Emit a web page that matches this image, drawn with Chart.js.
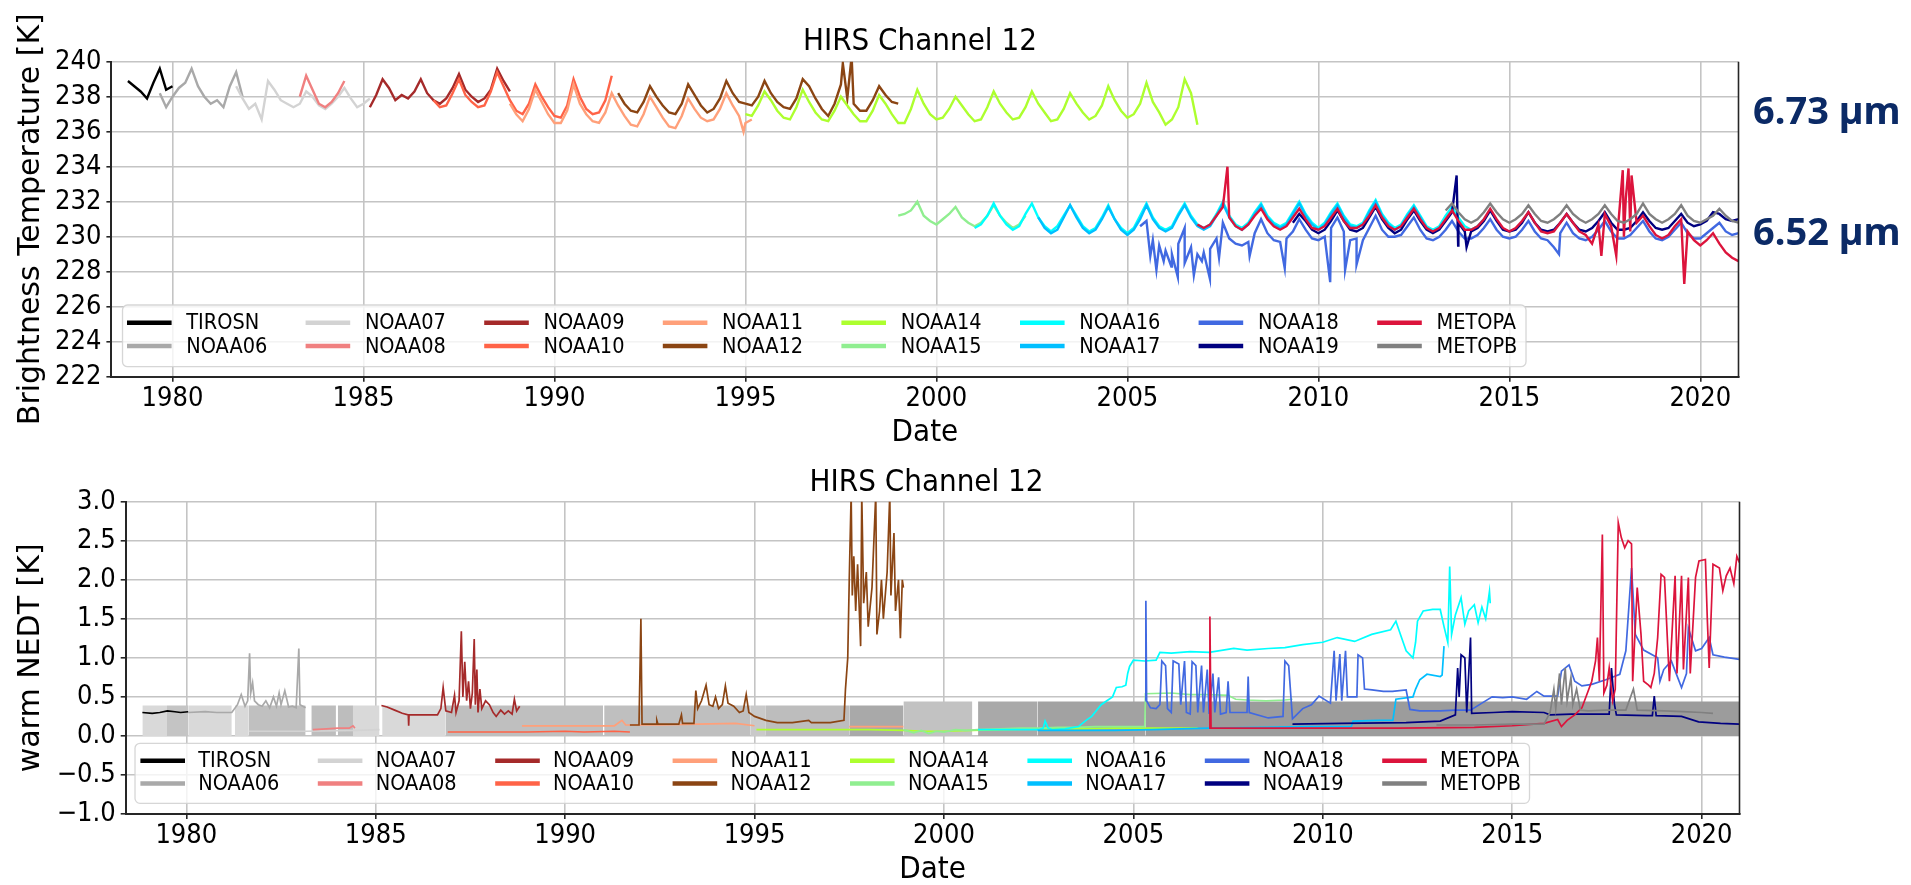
<!DOCTYPE html>
<html>
<head>
<meta charset="utf-8">
<script src="https://cdn.jsdelivr.net/npm/chart.js@4.4.1/dist/chart.umd.min.js"></script>
<style>
  html, body { margin: 0; padding: 0; background: #fff; width: 1911px; height: 885px; overflow: hidden; }
  canvas { position: absolute; left: 0; }
  #tbChart { top: 0; }
  #nedtChart { top: 440px; }
</style>
</head>
<body>
<canvas id="tbChart" width="1911" height="470"></canvas>
<canvas id="nedtChart" width="1911" height="450"></canvas>
<script>
const satellites = ['TIROSN', 'NOAA06', 'NOAA07', 'NOAA08', 'NOAA09', 'NOAA10', 'NOAA11', 'NOAA12',
                    'NOAA14', 'NOAA15', 'NOAA16', 'NOAA17', 'NOAA18', 'NOAA19', 'METOPA', 'METOPB'];
const lineColors = ['#000000', '#a9a9a9', '#d3d3d3', '#f08080', '#a52a2a', '#ff6347', '#ffa07a', '#8b4513',
                    '#adff2f', '#90ee90', '#00ffff', '#00bfff', '#4169e1', '#000080', '#dc143c', '#808080'];

const yearTicks = [1980, 1985, 1990, 1995, 2000, 2005, 2010, 2015, 2020];
const tbTicks = [222, 224, 226, 228, 230, 232, 234, 236, 238, 240];
const nedtTicks = [-1, -0.5, 0, 0.5, 1, 1.5, 2, 2.5, 3];

// brightness temperature, one value every two months from the start year
const SAMPLE = 1 / 6;
const tirosnTb = [238.9, 238.6, 238.3, 237.9, 238.8, 239.6, 238.4, 238.6];
const noaa06Tb = [238.2, 237.4, 238.0, 238.5, 238.8, 239.6, 238.6, 238.0, 237.6, 237.8, 237.4, 238.6, 239.4, 238.0];
const noaa07Tb = [238.6, 237.9, 237.3, 237.6, 236.7, 238.9, 238.4, 237.8, 237.6, 237.4, 237.6, 238.3, 238.0, 237.5,
                  237.3, 237.6, 238.0, 238.5, 237.9, 237.4, 237.6, 237.9];
const noaa08Tb = [238.0, 239.2, 238.4, 237.6, 237.4, 237.7, 238.2, 238.9];
const noaa09Tb = [237.4, 238.1, 239.0, 238.5, 237.8, 238.1, 237.9, 238.3, 239.0, 238.2, 237.8, 237.6, 237.9, 238.5,
                  239.3, 238.4, 238.0, 237.7, 237.9, 238.4, 239.6, 238.9, 238.3];
const noaa10Tb = [237.8, 237.4, 237.5, 238.2, 239.0, 238.1, 237.7, 237.4, 237.5, 238.3, 239.4, 238.6, 237.8, 237.2,
                  237.0, 237.6, 238.7, 238.0, 237.4, 236.9, 236.8, 237.5, 239.0, 238.0, 237.3, 237.0, 237.1, 237.8, 239.2];
const noaa11Tb = [237.6, 237.0, 236.6, 237.3, 238.4, 237.7, 237.0, 236.5, 236.5, 237.2, 238.7, 237.6, 237.0, 236.6,
                  236.5, 237.1, 238.2, 237.5, 236.9, 236.4, 236.3, 237.0, 238.0, 237.4, 236.8, 236.3, 236.2, 236.9,
                  237.9, 237.3, 236.8, 236.6, 236.7, 237.3, 238.2, 237.5, 236.9, 236.5, 236.7];
const noaa12Tb = [238.2, 237.6, 237.2, 237.1, 237.7, 238.6, 238.0, 237.5, 237.1, 237.0, 237.6, 238.7, 238.1, 237.5,
                  237.1, 237.3, 237.9, 238.9, 238.2, 237.7, 237.6, 237.5, 238.0, 238.9, 238.2, 237.7, 237.4, 237.3,
                  237.9, 239.0, 238.6, 237.9, 237.3, 236.9, 237.6, 238.7, 237.9, 237.6, 237.2, 237.2, 237.8, 238.6,
                  238.1, 237.7, 237.6];
const noaa14Tb = [237.0, 236.9, 237.5, 238.3, 237.8, 237.2, 236.8, 236.7, 237.4, 238.4, 237.7, 237.1,
                  236.7, 236.6, 237.2, 238.0, 237.5, 237.0, 236.6, 236.6, 237.2, 238.1, 237.6, 237.0,
                  236.5, 236.5, 237.3, 238.4, 237.6, 237.0, 236.7, 236.8, 237.3, 238.0, 237.5, 237.0,
                  236.6, 236.7, 237.4, 238.3, 237.6, 237.1, 236.7, 236.8, 237.4, 238.3, 237.6, 237.1,
                  236.6, 236.7, 237.3, 238.2, 237.6, 237.1, 236.7, 236.9, 237.5, 238.6, 237.8, 237.2,
                  236.8, 237.0, 237.6, 238.8, 237.7, 237.1, 236.4, 236.7, 237.4, 239.0, 238.2, 236.4];
const noaa15Tb = [231.2, 231.3, 231.5, 232.0, 231.2, 230.9, 230.7, 231.0, 231.3, 231.7, 231.1, 230.8,
                  230.6, 230.8, 231.2, 231.8, 231.2, 230.8, 230.5, 230.7, 231.2];
const noaa16Tb = [230.5, 230.7, 231.2, 231.9, 231.2, 230.7, 230.4, 230.6, 231.3, 231.9, 231.1, 230.6,
                  230.3, 230.6, 231.2, 231.8, 231.2, 230.6, 230.3, 230.5, 231.1, 231.8, 231.0, 230.5,
                  230.2, 230.5, 231.2, 231.9, 231.1, 230.6, 230.4, 230.6, 231.3, 231.9, 231.2, 230.7,
                  230.5, 230.7, 231.3, 232.0, 231.2, 230.7, 230.5, 230.8, 231.4, 231.9, 231.2, 230.8,
                  230.6, 230.8, 231.4, 232.0, 231.3, 230.8, 230.5, 230.8, 231.4, 231.9, 231.2, 230.7,
                  230.6, 230.8, 231.5, 232.1, 231.3, 230.8, 230.5, 230.7, 231.3, 231.8, 231.2, 230.6,
                  230.4, 230.6, 231.2, 231.7, 231.1, 230.6, 230.4, 230.6, 231.0];
const noaa17Tb = [231.1, 230.5, 230.2, 230.4, 231.1, 231.8, 231.1, 230.5, 230.2, 230.4, 231.0, 231.7, 231.0, 230.4,
                  230.1, 230.4, 231.0, 231.8, 231.0, 230.5, 230.3, 230.5, 231.2, 231.8, 231.1, 230.6,
                  230.4, 230.6, 231.2, 231.9, 231.1, 230.6, 230.4, 230.7, 231.3, 231.8, 231.1, 230.7,
                  230.5, 230.7, 231.3, 231.9, 231.2, 230.7, 230.4, 230.7, 231.3, 231.8, 231.1, 230.6,
                  230.5, 230.7, 231.4, 232.0, 231.2, 230.7, 230.4, 230.6, 231.2, 231.7, 231.1, 230.5,
                  230.3, 230.5];
const noaa18Tb = [230.6, 230.9, 229.8, 229.5, 229.2, 229.0, 229.6, 230.5, 229.4, 229.0,
                  229.1, 229.3, 229.9, 230.8, 229.9, 229.6, 229.5, 229.7, 230.2, 231.0, 230.2, 229.8,
                  229.7, 229.9, 230.3, 231.0, 230.4, 229.9, 229.8, 230.0, 230.5, 231.1, 230.3, 229.8,
                  229.9, 229.8, 230.5, 231.2, 230.4, 230.0, 230.0, 230.1, 230.6, 231.1, 230.4, 229.9,
                  229.8, 230.0, 230.4, 230.9, 230.3, 229.9, 229.9, 230.1, 230.5, 231.0, 230.4, 230.0,
                  229.9, 230.0, 230.4, 230.9, 230.3, 229.9, 229.8, 229.4, 230.2, 230.8, 230.2, 229.9,
                  229.8, 230.0, 230.4, 230.9, 230.3, 229.9, 229.9, 230.1, 230.5, 230.9, 230.3, 229.9,
                  229.8, 230.0, 230.4, 230.8, 230.2, 229.9, 229.9, 230.2, 230.5, 230.8, 230.3, 230.1, 230.2];
const noaa19Tb = [230.8, 231.3, 230.9, 230.4, 230.2, 230.4, 230.9, 231.5, 230.9, 230.4,
                  230.3, 230.5, 231.1, 231.7, 231.0, 230.5, 230.2, 230.4, 231.0, 231.5, 230.9, 230.4,
                  230.2, 230.4, 230.9, 231.4, 230.8, 230.3, 230.3, 230.5, 230.9, 231.5, 230.9, 230.4,
                  230.3, 230.4, 230.8, 231.4, 230.8, 230.4, 230.3, 230.4, 230.8, 231.3, 230.8, 230.4,
                  230.3, 230.5, 230.9, 231.4, 230.8, 230.4, 230.4, 230.5, 230.9, 231.4, 230.9, 230.5,
                  230.4, 230.5, 230.9, 231.3, 230.8, 230.6, 230.7, 230.9, 231.4, 231.3, 231.0, 230.9, 231.0];
const metopaTb = [230.7, 230.5, 230.7, 231.2, 231.7, 231.1, 230.6, 230.4, 230.7, 231.2, 231.6, 231.0, 230.6,
                  230.4, 230.6, 231.1, 231.6, 231.0, 230.5, 230.4, 230.6, 231.1, 231.6, 230.9, 230.5,
                  230.5, 230.7, 231.2, 231.8, 231.1, 230.6, 230.4, 230.6, 231.1, 231.6, 231.0, 230.5,
                  230.3, 230.5, 231.0, 231.5, 230.9, 230.4, 230.4, 230.6, 231.0, 231.6, 231.0, 230.5,
                  230.3, 230.5, 230.9, 231.4, 230.8, 230.3, 230.2, 230.3, 230.8, 231.3, 230.8, 230.3,
                  230.1, 229.6, 230.7, 231.3, 230.6, 230.2, 230.0, 230.3, 230.8, 231.2, 230.6, 230.1,
                  229.9, 230.1, 230.6, 231.0, 230.3, 229.8, 229.5, 229.8, 230.2, 229.6, 229.1, 228.8, 228.6];
const metopbTb = [231.5, 231.9, 231.4, 231.0, 230.8, 231.0, 231.4, 231.9, 231.4, 231.0,
                  230.8, 231.0, 231.3, 231.8, 231.3, 230.9, 230.8, 231.0, 231.3, 231.8, 231.3, 231.0,
                  230.8, 231.0, 231.3, 231.8, 231.3, 230.9, 230.8, 231.0, 231.3, 231.9, 231.3, 231.0,
                  230.8, 231.0, 231.3, 231.8, 231.2, 230.9, 230.8, 231.0, 231.2, 231.6, 231.2, 230.9, 230.8];

const tbStart = [1978.833, 1979.667, 1981.667, 1983.333, 1985.167, 1986.833, 1988.833, 1991.667,
                 1995.0, 1999.0, 2001.0, 2002.667, 2005.333, 2009.333, 2006.833, 2013.333];
const tbSeries = [tirosnTb, noaa06Tb, noaa07Tb, noaa08Tb, noaa09Tb, noaa10Tb, noaa11Tb, noaa12Tb,
                  noaa14Tb, noaa15Tb, noaa16Tb, noaa17Tb, noaa18Tb, noaa19Tb, metopaTb, metopbTb];

// single-day excursions [year, K]
const noaa11TbSpikes = [[1994.95, 236.0]];
const noaa12TbSpikes = [[1997.55, 239.9], [1997.78, 240.3]];
const noaa18TbSpikes = [[2005.6, 228.9], [2005.76, 228.1], [2005.95, 228.6], [2006.15, 228.3], [2006.32, 227.7],
                        [2006.5, 228.5], [2006.74, 227.8], [2006.95, 228.6], [2007.16, 227.6], [2007.4, 228.8],
                        [2008.2, 228.9], [2009.12, 228.2], [2010.31, 227.4], [2010.7, 228.1], [2011.0, 228.4],
                        [2016.3, 229.0]];
const noaa19TbSpikes = [[2013.62, 233.5], [2013.66, 229.5], [2013.88, 229.4]];
const metopaTbSpikes = [[2007.62, 234.0], [2017.41, 228.9], [2017.8, 228.9], [2017.97, 233.8], [2018.05, 232.2],
                        [2018.12, 233.9], [2018.2, 233.5], [2019.58, 227.3]];
const tbSpikes = [[], [], [], [], [], [], noaa11TbSpikes, noaa12TbSpikes,
                  [], [], [], [], noaa18TbSpikes, noaa19TbSpikes, metopaTbSpikes, []];

// warm NEDT [year, K]
const tirosnNedt = [[1978.84, 0.30], [1979.1, 0.29], [1979.3, 0.30], [1979.5, 0.32], [1979.7, 0.31], [1979.85, 0.30], [1980.05, 0.31]];
const noaa06Nedt = [[1980.05, 0.30], [1980.5, 0.31], [1980.8, 0.30], [1981.2, 0.30], [1981.35, 0.40], [1981.45, 0.53],
                    [1981.55, 0.38], [1981.62, 0.45], [1981.67, 1.06], [1981.7, 0.55], [1981.75, 0.68], [1981.8, 0.45],
                    [1981.9, 0.40], [1982.0, 0.38], [1982.1, 0.45], [1982.2, 0.36], [1982.3, 0.50], [1982.38, 0.38],
                    [1982.45, 0.55], [1982.5, 0.40], [1982.6, 0.58], [1982.7, 0.37], [1982.8, 0.38], [1982.9, 0.36],
                    [1982.97, 1.12], [1983.0, 0.40], [1983.15, 0.36]];
const noaa07Nedt = [[1981.65, 0.06], [1982.5, 0.06], [1983.15, 0.06], [1984.5, 0.07], [1985.1, 0.08]];
const noaa08Nedt = [[1983.34, 0.08], [1983.7, 0.09], [1984.0, 0.10], [1984.3, 0.10], [1984.4, 0.13], [1984.45, 0.10]];
const noaa09Nedt = [[1985.15, 0.39], [1985.3, 0.37], [1985.5, 0.33], [1985.7, 0.29], [1985.86, 0.27], [1985.87, 0.13],
                    [1985.88, 0.27], [1986.3, 0.27], [1986.63, 0.27], [1986.72, 0.35], [1986.78, 0.62], [1986.85, 0.32],
                    [1987.0, 0.30], [1987.08, 0.52], [1987.12, 0.30], [1987.2, 0.45], [1987.26, 1.34], [1987.3, 0.50],
                    [1987.35, 0.95], [1987.4, 0.45], [1987.45, 0.70], [1987.5, 0.35], [1987.55, 0.55], [1987.6, 1.24],
                    [1987.63, 0.40], [1987.67, 0.85], [1987.7, 0.30], [1987.75, 0.60], [1987.8, 0.35], [1987.9, 0.45],
                    [1988.0, 0.40], [1988.1, 0.30], [1988.18, 0.25], [1988.3, 0.33], [1988.4, 0.28], [1988.5, 0.32],
                    [1988.6, 0.28], [1988.66, 0.47], [1988.72, 0.32], [1988.8, 0.38]];
const noaa10Nedt = [[1986.9, 0.05], [1988.0, 0.05], [1989.0, 0.05], [1990.0, 0.06], [1990.5, 0.05], [1991.3, 0.06], [1991.71, 0.05]];
const noaa11Nedt = [[1988.86, 0.13], [1989.5, 0.13], [1990.5, 0.13], [1991.3, 0.13], [1991.5, 0.20], [1991.6, 0.14],
                    [1992.5, 0.14], [1993.5, 0.15], [1994.5, 0.16], [1995.0, 0.13], [1995.05, null],
                    [1997.5, 0.12], [1998.93, 0.12]];
const noaa12Nedt = [[1991.71, 0.14], [1991.95, 0.14], [1992.0, 1.50], [1992.03, 0.15], [1992.4, 0.15], [1992.42, 0.20],
                    [1992.45, 0.15], [1993.0, 0.15], [1993.07, 0.27], [1993.1, 0.16], [1993.4, 0.16], [1993.45, 0.58],
                    [1993.5, 0.35], [1993.6, 0.45], [1993.72, 0.65], [1993.8, 0.40], [1993.9, 0.38], [1993.97, 0.50],
                    [1994.05, 0.35], [1994.15, 0.40], [1994.23, 0.64], [1994.3, 0.42], [1994.45, 0.38], [1994.6, 0.30],
                    [1994.7, 0.32], [1994.78, 0.53], [1994.85, 0.30], [1995.0, 0.25], [1995.3, 0.20], [1995.6, 0.17],
                    [1996.0, 0.17], [1996.43, 0.20], [1996.5, 0.17], [1997.0, 0.17], [1997.36, 0.20], [1997.4, 0.60],
                    [1997.46, 1.00], [1997.5, 2.00], [1997.55, 3.10], [1997.58, 1.80], [1997.62, 2.30], [1997.67, 1.60],
                    [1997.72, 2.20], [1997.8, 1.15], [1997.83, 3.10], [1997.88, 1.70], [1997.95, 2.10], [1998.0, 1.40],
                    [1998.1, 1.90], [1998.2, 3.10], [1998.23, 1.30], [1998.3, 1.60], [1998.35, 2.00], [1998.4, 1.50],
                    [1998.5, 2.10], [1998.57, 3.10], [1998.6, 1.80], [1998.68, 2.60], [1998.72, 1.60], [1998.8, 2.00],
                    [1998.85, 1.25], [1998.9, 2.00], [1998.93, 1.90]];
const noaa14Nedt = [[1995.05, 0.08], [1996.0, 0.08], [1997.0, 0.08], [1998.0, 0.08], [1998.93, 0.07], [1999.5, 0.06],
                    [2000.0, 0.06], [2000.75, 0.07], [2001.5, 0.08], [2002.5, 0.09], [2003.5, 0.09], [2004.5, 0.10],
                    [2005.3, 0.10], [2006.0, 0.10], [2006.7, 0.10]];
const noaa15Nedt = [[1998.93, 0.08], [1999.2, 0.04], [1999.4, 0.07], [1999.6, 0.03], [1999.8, 0.06], [2000.0, 0.05],
                    [2000.3, 0.08], [2000.6, 0.07], [2000.9, 0.08], [2001.5, 0.09], [2002.0, 0.10], [2002.5, 0.10],
                    [2003.0, 0.11], [2003.5, 0.11], [2004.0, 0.12], [2004.7, 0.12], [2005.3, 0.12], [2005.32, 0.54],
                    [2006.0, 0.55], [2006.5, 0.53], [2007.0, 0.53], [2007.5, 0.52], [2007.7, 0.47], [2008.0, 0.46],
                    [2008.5, 0.45], [2009.0, 0.46], [2009.2, 0.47]];
const noaa16Nedt = [[2000.9, 0.08], [2001.5, 0.08], [2002.0, 0.08], [2002.5, 0.08], [2002.62, 0.10], [2002.67, 0.19],
                    [2002.75, 0.10], [2002.87, 0.08], [2003.2, 0.09], [2003.55, 0.12], [2003.75, 0.20], [2003.9, 0.25],
                    [2004.15, 0.40], [2004.3, 0.45], [2004.45, 0.50], [2004.55, 0.62], [2004.7, 0.63], [2004.8, 0.65],
                    [2004.85, 0.80], [2004.9, 0.89], [2005.0, 0.97], [2005.3, 0.96], [2005.6, 0.97], [2005.7, 1.07],
                    [2006.0, 1.06], [2006.5, 1.08], [2007.0, 1.07], [2007.65, 1.12], [2008.0, 1.10], [2008.56, 1.12],
                    [2009.0, 1.13], [2009.47, 1.17], [2010.0, 1.20], [2010.38, 1.26], [2010.84, 1.21], [2011.29, 1.30],
                    [2011.79, 1.36], [2011.93, 1.47], [2012.05, 1.30], [2012.2, 1.09], [2012.38, 1.00], [2012.45, 1.20],
                    [2012.5, 1.47], [2012.65, 1.60], [2012.9, 1.62], [2013.1, 1.62], [2013.2, 1.40], [2013.3, 1.20],
                    [2013.35, 2.17], [2013.4, 1.30], [2013.5, 1.55], [2013.65, 1.77], [2013.75, 1.43], [2013.85, 1.60],
                    [2014.0, 1.68], [2014.1, 1.45], [2014.2, 1.65], [2014.3, 1.50], [2014.4, 1.85], [2014.42, 1.70]];
const noaa17Nedt = [[2002.47, 0.07], [2003.5, 0.07], [2004.5, 0.07], [2005.5, 0.08], [2007.0, 0.10], [2008.5, 0.11],
                    [2009.5, 0.12], [2010.75, 0.12], [2010.8, 0.19], [2011.5, 0.20], [2011.85, 0.20], [2011.93, 0.47],
                    [2012.38, 0.50], [2012.45, 0.60], [2012.56, 0.72], [2012.75, 0.79], [2013.1, 0.76], [2013.15, 0.78],
                    [2013.2, 1.15]];
const noaa18Nedt = [[2005.32, 0.45], [2005.33, 1.73], [2005.35, 0.45], [2005.45, 0.36], [2005.6, 0.35], [2005.7, 0.40],
                    [2005.75, 0.96], [2005.85, 0.90], [2005.9, 0.35], [2006.0, 0.30], [2006.05, 0.96], [2006.2, 0.92],
                    [2006.25, 0.40], [2006.35, 0.96], [2006.4, 0.30], [2006.5, 0.28], [2006.55, 0.95], [2006.65, 0.90],
                    [2006.7, 0.30], [2006.8, 0.90], [2006.85, 0.30], [2006.95, 0.85], [2007.0, 0.28], [2007.1, 0.80],
                    [2007.15, 0.30], [2007.25, 0.75], [2007.3, 0.28], [2007.45, 0.30], [2007.5, 0.70], [2007.55, 0.30],
                    [2008.0, 0.30], [2008.03, 0.76], [2008.06, 0.30], [2008.56, 0.23], [2008.95, 0.25], [2009.0, 0.96],
                    [2009.1, 0.90], [2009.2, 0.22], [2009.47, 0.35], [2009.7, 0.40], [2009.9, 0.51], [2010.2, 0.42],
                    [2010.3, 1.09], [2010.35, 0.45], [2010.45, 1.05], [2010.5, 0.45], [2010.6, 1.09], [2010.65, 0.50],
                    [2010.9, 0.50], [2010.93, 1.04], [2011.05, 1.00], [2011.1, 0.60], [2011.3, 0.59], [2011.6, 0.57],
                    [2011.84, 0.57], [2012.2, 0.59], [2012.3, 0.34], [2012.56, 0.32], [2013.1, 0.32], [2013.5, 0.33],
                    [2013.9, 0.33], [2014.2, 0.42], [2014.47, 0.50], [2014.75, 0.49], [2015.0, 0.50], [2015.38, 0.47],
                    [2015.65, 0.57], [2015.84, 0.51], [2016.2, 0.51], [2016.3, 0.83], [2016.5, 0.91], [2016.65, 0.70],
                    [2016.84, 0.64], [2017.1, 0.66], [2017.47, 0.72], [2017.84, 0.79], [2018.0, 1.09], [2018.15, 2.15],
                    [2018.25, 1.30], [2018.47, 1.10], [2018.84, 1.00], [2018.9, 0.70], [2019.0, 0.85], [2019.2, 0.96],
                    [2019.47, 0.62], [2019.6, 0.80], [2019.65, 1.38], [2019.84, 1.09], [2020.0, 1.12], [2020.2, 1.26],
                    [2020.3, 1.04], [2020.6, 1.01], [2021.0, 0.98]];
const noaa19Nedt = [[2009.2, 0.15], [2010.5, 0.16], [2012.2, 0.17], [2013.1, 0.19], [2013.5, 0.27], [2013.56, 0.87],
                    [2013.6, 0.50], [2013.65, 1.04], [2013.75, 1.00], [2013.8, 0.30], [2013.9, 1.26], [2013.93, 0.29],
                    [2014.5, 0.30], [2015.0, 0.31], [2015.84, 0.30], [2016.0, 0.27], [2016.56, 0.28], [2017.56, 0.28],
                    [2017.62, 0.87], [2017.7, 0.40], [2017.75, 0.27], [2018.56, 0.26], [2018.7, 0.26], [2018.75, 0.51],
                    [2018.8, 0.26], [2019.47, 0.25], [2019.92, 0.18], [2020.5, 0.16], [2021.0, 0.15]];
const metopaNedt = [[2007.0, 0.10], [2007.02, 1.53], [2007.05, 0.10], [2008.0, 0.10], [2010.0, 0.10], [2012.0, 0.10],
                    [2014.0, 0.11], [2015.0, 0.13], [2015.38, 0.145], [2015.84, 0.16], [2016.2, 0.21], [2016.3, 0.12],
                    [2016.45, 0.20], [2016.65, 0.27], [2016.84, 0.36], [2017.0, 0.57], [2017.1, 0.70], [2017.2, 0.96],
                    [2017.25, 1.26], [2017.3, 0.70], [2017.38, 2.58], [2017.42, 0.55], [2017.5, 0.65], [2017.56, 0.87],
                    [2017.65, 0.45], [2017.72, 0.60], [2017.8, 2.73], [2017.88, 2.54], [2017.97, 2.41], [2018.06, 2.50],
                    [2018.15, 2.46], [2018.18, 0.70], [2018.3, 1.90], [2018.4, 1.30], [2018.47, 0.70], [2018.6, 0.65],
                    [2018.66, 0.62], [2018.75, 0.80], [2018.84, 1.26], [2018.93, 2.07], [2019.02, 2.03], [2019.1, 1.20],
                    [2019.15, 0.70], [2019.3, 2.05], [2019.35, 0.80], [2019.47, 2.05], [2019.52, 0.85], [2019.65, 2.03],
                    [2019.7, 0.80], [2019.84, 2.03], [2019.93, 2.24], [2020.1, 2.26], [2020.15, 1.50], [2020.2, 0.87],
                    [2020.3, 2.20], [2020.47, 2.15], [2020.56, 1.86], [2020.65, 2.05], [2020.75, 2.15], [2020.85, 1.95],
                    [2020.93, 2.30], [2021.0, 2.22]];
const metopbNedt = [[2013.0, 0.14], [2014.0, 0.14], [2015.0, 0.15], [2015.84, 0.15], [2016.0, 0.30], [2016.1, 0.60],
                    [2016.15, 0.35], [2016.25, 0.80], [2016.3, 0.40], [2016.4, 0.87], [2016.45, 0.45], [2016.55, 0.75],
                    [2016.6, 0.40], [2016.7, 0.60], [2016.8, 0.33], [2017.0, 0.32], [2017.5, 0.33], [2018.0, 0.33],
                    [2018.2, 0.60], [2018.3, 0.33], [2019.0, 0.32], [2019.5, 0.31], [2020.0, 0.30], [2020.3, 0.29]];
const nedtSeries = [tirosnNedt, noaa06Nedt, noaa07Nedt, noaa08Nedt, noaa09Nedt, noaa10Nedt, noaa11Nedt, noaa12Nedt,
                    noaa14Nedt, noaa15Nedt, noaa16Nedt, noaa17Nedt, noaa18Nedt, noaa19Nedt, metopaNedt, metopbNedt];

// grey reference bands under the NEDT curves
const bandFrom = [1978.84, 1979.49, 1980.05, 1981.28, 1981.65, 1983.3, 1984.0, 1984.4, 1985.17, 1986.85,
                  1991.03, 1994.9, 1995.3, 1997.5, 1998.93, 2000.9, 2002.47, 2005.32];
const bandTo   = [1979.49, 1980.05, 1981.2, 1981.65, 1983.15, 1983.95, 1984.4, 1985.1, 1986.85, 1991.0,
                  1994.9, 1995.3, 1997.5, 1998.93, 2000.75, 2002.47, 2005.32, 2021.0];
const bandTop  = [0.39, 0.39, 0.39, 0.39, 0.39, 0.39, 0.39, 0.39, 0.39, 0.39,
                  0.39, 0.39, 0.39, 0.39, 0.44, 0.44, 0.44, 0.44];
const bandShade = ['#d9d9d9', '#c4c4c4', '#d9d9d9', '#d9d9d9', '#c0c0c0', '#bdbdbd', '#bdbdbd', '#d9d9d9', '#d9d9d9', '#bfbfbf',
                   '#bfbfbf', '#c9c9c9', '#bdbdbd', '#a9a9a9', '#c2c2c2', '#a9a9a9', '#a2a2a2', '#9c9c9c'];

const COND = '"DejaVu Sans Condensed", "DejaVu Sans", sans-serif';
const GRID = '#c4c4c4';
const SPINE = '#262626';

function gridPoints(start, values, extra) {
  const pts = values.map((v, i) => ({ x: start + i * SAMPLE, y: v }));
  extra.forEach(([x, y]) => pts.push({ x, y }));
  return pts.sort((a, b) => a.x - b.x);
}

function satDataset(i, points, width) {
  return {
    label: satellites[i], data: points, borderColor: lineColors[i], backgroundColor: lineColors[i],
    borderWidth: width, pointRadius: 0, tension: 0, fill: false, spanGaps: false, order: 40 - i
  };
}

const framePlugin = {
  id: 'frame',
  afterDraw(chart, args, o) {
    const { ctx, chartArea: a } = chart;
    ctx.save();
    ctx.strokeStyle = SPINE;
    ctx.lineWidth = 1.6;
    ctx.beginPath();
    ctx.moveTo(a.right, a.top);
    ctx.lineTo(a.right, a.bottom);
    ctx.stroke();

    ctx.fillStyle = '#000';
    ctx.font = '31px ' + COND;
    ctx.textAlign = 'center';
    ctx.textBaseline = 'middle';
    ctx.fillText('HIRS Channel 12', (a.left + a.right) / 2 + o.titleDx, a.top - o.titleGap);

    const L = o.legend;
    const bx = a.left + L.dx, by = a.bottom - L.dy - L.h;
    ctx.fillStyle = 'rgba(255,255,255,0.8)';
    ctx.strokeStyle = 'rgba(210,210,210,0.9)';
    ctx.lineWidth = 1.3;
    ctx.beginPath();
    ctx.roundRect(bx, by, L.w, L.h, 5);
    ctx.fill();
    ctx.stroke();
    ctx.font = '21.5px ' + COND;
    ctx.textAlign = 'left';
    satellites.forEach((name, i) => {
      const c = Math.floor(i / 2), r = i % 2;
      const x = bx + L.lineOff + c * L.pitch;
      const y = by + L.row0 + r * L.rowGap;
      ctx.strokeStyle = lineColors[i];
      ctx.lineWidth = 4.5;
      ctx.beginPath();
      ctx.moveTo(x, y);
      ctx.lineTo(x + L.lineLen, y);
      ctx.stroke();
      ctx.fillStyle = '#000';
      ctx.fillText(name, x + L.textOff, y + 1);
    });

    (o.sideLabels || []).forEach(s => {
      ctx.fillStyle = '#0b2a66';
      ctx.font = 'bold 38px "Noto Sans", "Open Sans", sans-serif';
      ctx.textAlign = 'left';
      ctx.textBaseline = 'alphabetic';
      ctx.fillText(s.text, s.x, s.y);
    });
    ctx.restore();
  }
};

function makeOptions(cfg) {
  return {
    responsive: false,
    animation: false,
    events: [],
    parsing: false,
    normalized: true,
    layout: { padding: { left: 0, top: cfg.top, right: cfg.right, bottom: cfg.bottom } },
    plugins: {
      legend: { display: false },
      title: { display: false },
      tooltip: { enabled: false },
      frame: cfg.frame
    },
    scales: {
      x: {
        type: 'linear', min: 1978.4, max: 2021.0,
        afterBuildTicks: s => { s.ticks = yearTicks.map(v => ({ value: v })); },
        afterFit: s => { s.height = cfg.xHeight; },
        ticks: { font: { family: COND, size: 27 }, color: '#000', padding: 1, maxRotation: 0, autoSkip: false,
                 callback: v => String(v) },
        grid: { color: GRID, lineWidth: 1.6, tickLength: 5, tickColor: SPINE, tickWidth: 1.6 },
        border: { display: true, color: SPINE, width: 2 },
        title: { display: true, text: 'Date', color: '#000', font: { family: COND, size: 31, lineHeight: 1.2 },
                 padding: { top: 0, bottom: 0 } }
      },
      y: {
        type: 'linear', min: cfg.yMin, max: cfg.yMax,
        afterBuildTicks: s => { s.ticks = cfg.yTicks.map(v => ({ value: v })); },
        afterFit: s => { s.width = cfg.yWidth; },
        ticks: { font: { family: COND, size: 27 }, color: '#000', padding: 5, autoSkip: false, callback: cfg.yFormat },
        grid: { color: GRID, lineWidth: 1.6, tickLength: 5, tickColor: SPINE, tickWidth: 1.6 },
        border: { display: true, color: SPINE, width: 2 },
        title: { display: true, text: cfg.yTitle, color: '#000', font: { family: '"DejaVu Sans", sans-serif', size: 30, lineHeight: 1.2 },
                 padding: { top: 13, bottom: 0 } }
      }
    }
  };
}

// top chart: brightness temperature
const tbDatasets = satellites.map((s, i) => satDataset(i, gridPoints(tbStart[i], tbSeries[i], tbSpikes[i]), 2.4));
new Chart(document.getElementById('tbChart'), {
  type: 'line',
  data: { datasets: tbDatasets },
  options: makeOptions({
    top: 61.7, right: 172.5, bottom: 18.4, xHeight: 74.9, yWidth: 111.4,
    yMin: 222, yMax: 240, yTicks: tbTicks, yTitle: 'Brightness Temperature [K]',
    yFormat: v => String(v),
    frame: {
      titleDx: -5, titleGap: 20,
      legend: { dx: 11.1, dy: 10, w: 1403.5, h: 61.7, lineOff: 4.5, lineLen: 44.6, textOff: 59.3,
                pitch: 178.6, row0: 17.7, rowGap: 23.3 },
      sideLabels: [{ text: '6.73 \u00b5m', x: 1753, y: 123.5 }, { text: '6.52 \u00b5m', x: 1753, y: 245 }]
    }
  }),
  plugins: [framePlugin]
});

// bottom chart: warm NEDT with grey bands
const bandDatasets = bandFrom.map((from, k) => ({
  label: 'band', data: [{ x: from, y: bandTop[k] }, { x: bandTo[k], y: bandTop[k] }],
  borderWidth: 0, borderColor: 'rgba(0,0,0,0)', backgroundColor: bandShade[k],
  pointRadius: 0, fill: 'origin', order: 100
}));
const nedtDatasets = satellites.map((s, i) => satDataset(i, nedtSeries[i].map(([x, y]) => ({ x, y })), 1.7));
new Chart(document.getElementById('nedtChart'), {
  type: 'line',
  data: { datasets: bandDatasets.concat(nedtDatasets) },
  options: makeOptions({
    top: 61.7, right: 171.5, bottom: 1.4, xHeight: 74.6, yWidth: 125.7,
    yMin: -1, yMax: 3, yTicks: nedtTicks, yTitle: 'warm NEDT [K]',
    yFormat: v => (v < 0 ? '\u2212' : '') + Math.abs(v).toFixed(1),
    frame: {
      titleDx: -6, titleGap: 19,
      legend: { dx: 9.3, dy: 10.7, w: 1394.5, h: 60, lineOff: 5.4, lineLen: 44.6, textOff: 57.9,
                pitch: 177.4, row0: 17.4, rowGap: 22.8 }
    }
  }),
  plugins: [framePlugin]
});
</script>
</body>
</html>
